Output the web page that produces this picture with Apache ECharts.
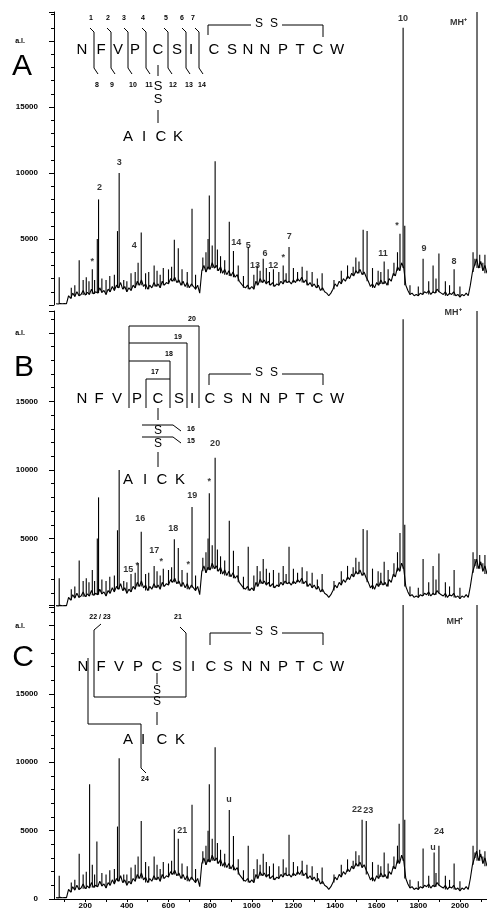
<!DOCTYPE html>
<html>
<head>
<meta charset="utf-8">
<script src="https://cdn.jsdelivr.net/npm/echarts@6/dist/echarts.min.js"></script>
<style>html,body{margin:0;padding:0;background:#fff}#main{width:487px;height:919px}</style>
</head>
<body>
<div id="main"></div>
<script>
// spectrum baseline, one value every 10 (m/z 60 .. 2130)
var mzStart = 60, mzStep = 10;
var baseline = [
  100, 80, 120, 90, 110, 100,
  700, 500, 900, 650, 1000, 700, 800, 1100, 750, 950,
  800, 1200, 850, 1000, 900, 1300, 950, 1100, 800, 1200,
  1000, 1400, 1100, 1500, 1300, 1700, 1200, 1400, 1000, 1300,
  1100, 1500, 1300, 1800, 1500, 1900, 1400, 1600, 1200, 1500,
  1300, 1700, 1400, 1600, 1300, 1800, 1500, 1700, 1600, 2000,
  1800, 2100, 1700, 1900, 1500, 1800, 1400, 1700, 1300, 1600,
  1400, 1200, 1500, 900, 2600, 3000, 2500, 2900, 2700, 3200,
  2800, 3000, 2600, 2900, 2400, 2700, 2300, 2600, 2200, 2500,
  2100, 2300, 1800, 1600, 1400, 1300, 1500, 1200, 1400, 1200,
  1800, 1500, 2000, 1700, 1900, 1600, 1800, 1500, 1700, 1400,
  1600, 1500, 1800, 1600, 1900, 1700, 1800, 1600, 1900, 1700,
  2000, 1800, 2100, 1700, 1900, 1500, 1700, 1400, 1600, 1300,
  1500, 1100, 1300, 1000, 900, 700, 900, 1200, 1600, 1400,
  1800, 1600, 2000, 1800, 2200, 2000, 2400, 2200, 2600, 2400,
  2700, 2300, 2500, 2100, 1800, 1400, 1600, 1300, 1700, 1500,
  1900, 1600, 1800, 1500, 2000, 1800, 2400, 2200, 2900, 2600,
  3200, 2800, 1500, 1100, 800, 900, 700, 800, 700, 900,
  800, 1000, 900, 1100, 800, 1000, 900, 1200, 1000, 900,
  800, 1000, 700, 900, 800, 1000, 700, 800, 600, 800,
  700, 900, 700, 1500, 2500, 3000, 3500, 2800, 3300, 2600,
  3000, 2400
];

// peaks [m/z, intensity] for spectra A and B
var peaksAB = [
  [75,2100],[133,1300],[150,1500],[171,3400],[190,1900],[205,2100],[218,1800],[234,2700],[245,1900],
  [258,5000],[264,8000],[280,2000],[300,1900],[318,2200],[340,2300],[355,5600],[363,10000],[385,1900],
  [400,1800],[420,2400],[440,2500],[454,3200],[469,5500],[490,2400],[505,2500],[531,3000],[545,2600],
  [560,2300],[575,2800],[600,2700],[615,2900],[628,4950],[647,4300],[665,2700],[690,2500],[713,7300],
  [730,2300],[765,3600],[780,4000],[790,5000],[796,8300],[810,4500],[824,10900],[835,4200],[850,3700],
  [870,3400],[892,6300],[912,4100],[935,3000],[960,2200],[983,4400],[1010,2300],[1026,3000],[1040,2600],
  [1055,3500],[1070,2800],[1085,2500],[1104,2700],[1130,2500],[1151,3000],[1165,2400],[1179,4400],
  [1200,2800],[1220,2500],[1242,2900],[1265,2600],[1290,2500],[1315,2000],[1338,2400],[1395,1900],
  [1430,2600],[1460,3000],[1487,2900],[1500,3600],[1515,3300],[1535,5700],[1554,5600],[1580,2800],
  [1607,2600],[1620,2500],[1636,3300],[1655,2700],[1683,3200],[1700,4000],[1712,5400],[1727,21000],
  [1735,6000],[1760,1500],[1800,1400],[1823,3500],[1850,1800],[1871,3000],[1885,2000],[1899,3900],
  [1930,1800],[1950,1500],[1972,2700],[2000,1400],[2063,4000],[2072,3500],[2082,30000],[2095,3800],
  [2110,3200],[2120,3800]
];

// peaks for spectrum C
var peaksC = [
  [75,1700],[133,1200],[150,1400],[171,3300],[190,1800],[205,2000],[221,8400],[234,2500],[245,1800],
  [256,4200],[280,1900],[300,1800],[318,2100],[340,2200],[355,5300],[363,10300],[385,1800],
  [400,1800],[420,2300],[440,2500],[454,3100],[469,5700],[490,2700],[505,2400],[531,3100],[545,2500],
  [560,2200],[575,2700],[600,2600],[615,2800],[628,5100],[647,4400],[665,2600],[690,2400],[713,6900],
  [730,2200],[765,3500],[780,3900],[790,5000],[796,8400],[810,4400],[824,11100],[835,4100],[850,3600],
  [870,3300],[892,6500],[912,4600],[935,2900],[960,2100],[983,3900],[1010,2200],[1026,2900],[1040,2500],
  [1055,3300],[1070,2700],[1085,2400],[1104,2600],[1130,2400],[1151,2900],[1165,2300],[1179,4700],
  [1200,2700],[1220,2400],[1242,2800],[1265,2500],[1290,2400],[1315,1900],[1338,2300],[1395,1800],
  [1430,2500],[1460,2900],[1487,2800],[1500,3500],[1515,3200],[1530,5800],[1550,5700],[1580,2700],
  [1607,2500],[1620,2400],[1636,3400],[1655,2600],[1683,3100],[1700,3900],[1708,5500],[1727,30000],
  [1735,5800],[1760,1400],[1800,1300],[1823,3700],[1850,1700],[1876,3400],[1885,1900],[1899,3900],
  [1930,1700],[1950,1400],[1972,2600],[2000,1300],[2063,3900],[2072,3400],[2082,30000],[2095,3600],
  [2110,3100],[2120,3500]
];

// peak annotations [text, m/z, intensity]
var labelsA = [
  ['*',234,3300],['2',268,8900],['3',363,10800],['4',435,4500],['14',925,4700],['5',983,4500],
  ['13',1016,3000],['6',1064,3900],['12',1103,3000],['*',1151,3600],['7',1180,5200],['11',1631,3900],
  ['*',1698,6000],['10',1727,21700],['9',1827,4300],['8',1971,3300],['MH\u207a',1993,21400]
];
var labelsB = [
  ['15',407,2750],['*',450,3050],['16',464,6450],['17',531,4100],['*',565,3350],['18',623,5700],
  ['*',695,3100],['19',714,8150],['*',796,9150],['20',824,11900],['MH\u207a',1967,21500]
];
var labelsC = [
  ['21',666,5000],['u',891,7250],['22',1506,6550],['23',1560,6450],['u',1870,3750],['24',1900,4950],
  ['MH\u207a',1976,20300]
];

var xTickValues = [100,200,300,400,500,600,700,800,900,1000,1100,1200,1300,1400,1500,1600,1700,1800,1900,2000,2100];
var xLabelValues = [200,400,600,800,1000,1200,1400,1600,1800,2000];
var yMax = [22200, 21600, 21500];

var FONT = '"Liberation Sans", Arial, sans-serif';
var chart = echarts.init(document.getElementById('main'));

var baseData = baseline.map(function (v, i) { return [mzStart + i * mzStep, v]; });
// a peak stick stands on the lower of the two baseline samples around it
function foot(mz) {
  var k = Math.floor((mz - mzStart) / mzStep);
  var a = baseline[Math.max(0, Math.min(baseline.length - 1, k))];
  var b = baseline[Math.max(0, Math.min(baseline.length - 1, k + 1))];
  return Math.min(a, b);
}
function sticks(peaks) {
  return peaks.map(function (p) { return [p[0], foot(p[0]), p[1]]; });
}
function renderStick(params, api) {
  var a = api.coord([api.value(0), api.value(1)]);
  var b = api.coord([api.value(0), api.value(2)]);
  return { type: 'line', shape: { x1: a[0], y1: a[1], x2: b[0], y2: b[1] },
    style: { stroke: '#000', lineWidth: 1.1 } };
}
var peakSets = [peaksAB, peaksAB, peaksC];
var labelSets = [labelsA, labelsB, labelsC];

var grids = [
  { left: 54, right: 0, top: 12, height: 293 },
  { left: 54, right: 0, top: 311, height: 296 },
  { left: 54, right: 0, top: 605, height: 294 }
];

var xAxes = [], yAxes = [], series = [];
for (var i = 0; i < 3; i++) {
  var last = i === 2;
  xAxes.push({
    gridIndex: i, type: 'value', min: 50, max: 2130, show: last,
    axisLine: { show: last, onZero: false, lineStyle: { color: '#000', width: 1 } },
    axisTick: { show: last, customValues: xTickValues, length: 3, lineStyle: { color: '#000' } },
    axisLabel: { show: last, customValues: xLabelValues, color: '#000', fontSize: 8, fontWeight: 'bold', fontFamily: FONT, margin: 3,
      formatter: function (v) { return String(v); } },
    splitLine: { show: false }
  });
  yAxes.push({
    gridIndex: i, type: 'value', min: 0, max: yMax[i], interval: 5000,
    axisLine: { show: true, lineStyle: { color: '#000', width: 1 } },
    axisTick: { show: true, length: 5, lineStyle: { color: '#000' } },
    minorTick: { show: true, splitNumber: 5, length: 3, lineStyle: { color: '#000' } },
    splitLine: { show: false },
    axisLabel: {
      color: '#000', fontSize: 8, fontWeight: 'bold', fontFamily: FONT, margin: 16,
      formatter: (function (showZero) {
        return function (v) { return (v >= 20000 || (v === 0 && !showZero)) ? '' : String(v); };
      })(last)
    }
  });
  series.push({
    type: 'line', xAxisIndex: i, yAxisIndex: i, data: baseData, symbol: 'none',
    lineStyle: { color: '#000', width: 1.1 }, silent: true, clip: true
  });
  series.push({
    type: 'custom', xAxisIndex: i, yAxisIndex: i, data: sticks(peakSets[i]),
    renderItem: renderStick, encode: { x: 0, y: [1, 2] }, silent: true, clip: true
  });
  series.push({
    type: 'scatter', xAxisIndex: i, yAxisIndex: i, symbolSize: 1, silent: true,
    itemStyle: { color: 'rgba(0,0,0,0)' },
    data: labelSets[i].map(function (l) { return { name: l[0], value: [l[1], l[2]] }; }),
    label: { show: true, position: 'inside', formatter: '{b}', color: '#000', fontSize: 9, fontWeight: 'bold', fontFamily: FONT }
  });
}

// sequence diagrams
function T(x, y, s, size, bold) {
  return { type: 'text', x: x, y: y, silent: true, z: 10,
    style: { text: s, fill: '#000', font: (bold ? 'bold ' : '') + size + 'px ' + FONT, align: 'center', verticalAlign: 'middle' } };
}
function L(pts) {
  return { type: 'polyline', silent: true, z: 10, shape: { points: pts }, style: { stroke: '#000', lineWidth: 1, fill: null } };
}
function row(y, xs, letters, size) {
  return letters.split('').map(function (c, k) { return T(xs[k], y, c, size || 15, false); });
}
var seq = 'NFVPCSICSNNPTCW';
var g = [];
// panel letters
g.push(T(20, 41, 'a.l.', 7, true), T(22, 67, 'A', 30, false));
g.push(T(20, 333, 'a.l.', 7, true), T(24, 368, 'B', 30, false));
g.push(T(20, 626, 'a.l.', 7, true), T(23, 658, 'C', 30, false));

// A
g = g.concat(row(50, [82,101,118,135,158,177,191,214,232,248,265,283,300,318,337], seq));
var vA = [94,111,128,146,168,186,199];
var topA = [[91,'1'],[108,'2'],[124,'3'],[143,'4'],[166,'5'],[182,'6'],[193,'7']];
var botA = [[97,'8'],[112,'9'],[133,'10'],[149,'11'],[173,'12'],[189,'13'],[202,'14']];
vA.forEach(function (xv, k) {
  g.push(L([[xv - 4, 28], [xv, 32], [xv, 68], [xv + 4, 74]]));
  g.push(T(topA[k][0], 18, topA[k][1], 7, true), T(botA[k][0], 85, botA[k][1], 7, true));
});
g.push(L([[158, 65], [158, 76]]), T(158, 86, 'S', 13), T(158, 99, 'S', 13), L([[158, 110], [158, 123]]));
g = g.concat(row(137, [128,144,161,178], 'AICK'));
g.push(L([[208, 35], [208, 25], [251, 25]]), T(259, 24, 'S', 12), T(274, 24, 'S', 12), L([[282, 25], [323, 25], [323, 37]]));

// B
g = g.concat(row(399, [82,99,117,137,158,179,192,210,228,247,265,283,300,318,337], seq));
g.push(L([[129, 408], [129, 326], [199, 326], [199, 408]]), T(192, 319, '20', 7, true));
g.push(L([[129, 343], [187, 343], [187, 408]]), T(178, 337, '19', 7, true));
g.push(L([[129, 361], [170, 361], [170, 408]]), T(169, 354, '18', 7, true));
g.push(L([[146, 408], [146, 379], [170, 379]]), T(155, 372, '17', 7, true));
g.push(L([[209, 385], [209, 374], [251, 374]]), T(259, 373, 'S', 12), T(274, 373, 'S', 12), L([[282, 374], [323, 374], [323, 385]]));
g.push(L([[158, 408], [158, 420]]));
g.push(L([[142, 425], [173, 425], [181, 431]]), T(191, 429, '16', 7, true), T(158, 431, 'S', 12));
g.push(L([[142, 437], [173, 437], [181, 443]]), T(191, 441, '15', 7, true), T(158, 444, 'S', 12));
g.push(L([[158, 452], [158, 467]]));
g = g.concat(row(480, [128,145,162,180], 'AICK'));

// C
g = g.concat(row(667, [83,101,119,138,157,177,193,211,228,247,265,283,300,318,337], seq));
g.push(L([[210, 645], [210, 633], [251, 633]]), T(259, 632, 'S', 12), T(274, 632, 'S', 12), L([[282, 633], [323, 633], [323, 645]]));
g.push(L([[101, 624], [94, 630], [94, 697], [186, 697], [186, 633], [180, 627]]));
g.push(T(100, 617, '22 / 23', 7, true), T(178, 617, '21', 7, true));
g.push(L([[157, 673], [157, 684]]), T(157, 691, 'S', 12), T(157, 702, 'S', 12), L([[157, 712], [157, 725]]));
g = g.concat(row(740, [128,143,162,180], 'AICK'));
g.push(L([[88, 658], [88, 724], [141, 724], [141, 768], [146, 773]]), T(145, 779, '24', 7, true));

chart.setOption({
  animation: false,
  backgroundColor: '#fff',
  grid: grids,
  xAxis: xAxes,
  yAxis: yAxes,
  series: series,
  graphic: { elements: g }
});
</script>
</body>
</html>
